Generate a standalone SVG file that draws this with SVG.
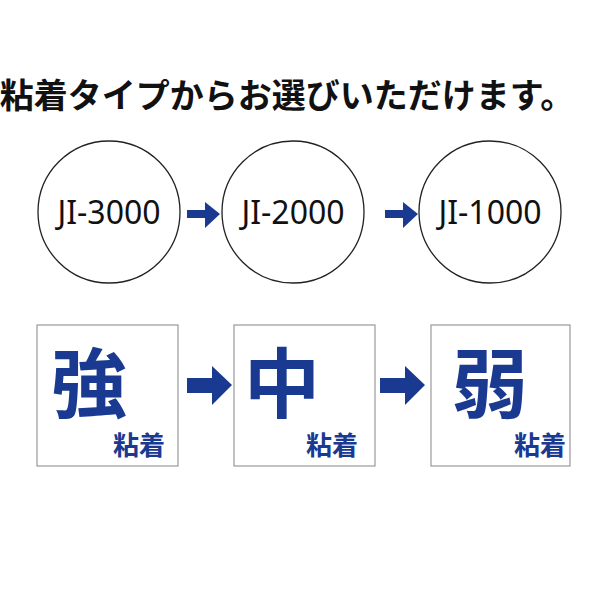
<svg xmlns="http://www.w3.org/2000/svg" width="600" height="600" viewBox="0 0 600 600">
<style>
.c{fill:#fff;stroke:#222;stroke-width:1.3}
.b{fill:#fff;stroke:#999;stroke-width:1.2}
.m{font-family:"Noto Sans","Noto Sans CJK JP",sans-serif;font-size:32px;fill:#111;text-anchor:middle}
.big{font-family:"Noto Sans CJK JP",sans-serif;font-weight:bold;font-size:76px;fill:#1a3a92;text-anchor:middle}
.sm{font-family:"Noto Sans CJK JP",sans-serif;font-weight:bold;font-size:26px;fill:#1a3a92;text-anchor:middle}
.a{fill:#1a3a92}
</style>
<rect width="600" height="600" fill="#fff"/>
<text x="287" y="108" font-family="Noto Sans CJK JP,sans-serif" font-weight="bold" font-size="34" fill="#111" text-anchor="middle">粘着タイプからお選びいただけます。</text>
<g id="n1"><circle class="c" cx="109" cy="212" r="71"/><text class="m" x="109" y="224">JI-3000</text></g>
<g id="n2"><circle class="c" cx="293" cy="212" r="71"/><text class="m" x="293" y="224">JI-2000</text></g>
<g id="n3"><circle class="c" cx="490" cy="212" r="71"/><text class="m" x="490" y="224">JI-1000</text></g>
<g id="b1"><rect class="b" x="37" y="325" width="141" height="141"/><text class="big" x="89" y="412">強</text><text class="sm" x="139" y="455">粘着</text></g>
<g id="b2"><rect class="b" x="234" y="325" width="141" height="141"/><text class="big" x="282" y="412">中</text><text class="sm" x="332" y="455">粘着</text></g>
<g id="b3"><rect class="b" x="431" y="325" width="139" height="141"/><text class="big" x="490" y="412">弱</text><text class="sm" x="540" y="455">粘着</text></g>
<g id="connectors">
<polygon class="a" points="187,210 205,210 205,202 220,214 205,228 205,218 187,218"/>
<polygon class="a" points="385,210 403,210 403,202 418,214 403,228 403,218 385,218"/>
<polygon class="a" points="187,378 212,378 212,366 232,385 212,405 212,393 187,393"/>
<polygon class="a" points="380,378 405,378 405,366 425,385 405,405 405,393 380,393"/>
</g>
</svg>
